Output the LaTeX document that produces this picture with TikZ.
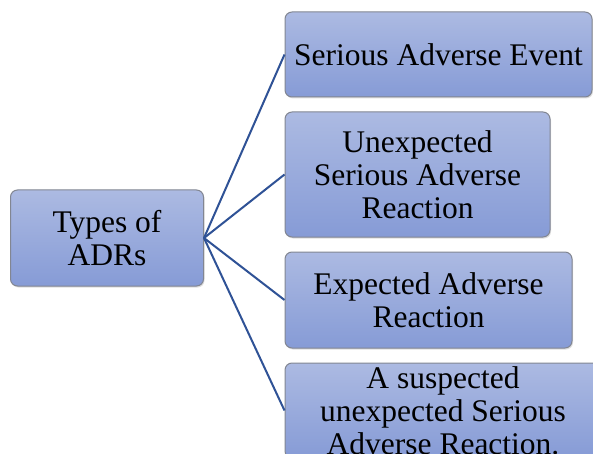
\documentclass[tikz,border=0pt]{standalone}
\usepackage{fontspec}
\setmainfont{Liberation Serif}
\usepackage{xcolor}
\usetikzlibrary{shadows,calc}
\definecolor{boxtop}{RGB}{172,186,226}
\definecolor{boxbot}{RGB}{134,155,214}
\definecolor{boxedge}{RGB}{130,134,146}
\definecolor{linkblue}{RGB}{47,82,150}
\tikzstyle{adrbox}=[rectangle, rounded corners=7pt, draw=boxedge, line width=1pt,
  top color=boxtop, bottom color=boxbot, align=center, inner sep=0pt,
  drop shadow={shadow xshift=1pt, shadow yshift=-1.5pt, opacity=0.25},
  font=\fontsize{31.5}{33}\selectfont]
\tikzstyle{link}=[draw=linkblue, line width=2pt]

\begin{document}
\begin{tikzpicture}[x=1pt, y=-1pt]
  \clip (0,0) rectangle (593,454);
  \fill[white] (0,0) rectangle (593,454);
  \node[adrbox, minimum width=193pt, minimum height=96pt]
    (types) at (107,238) {Types of\\ADRs};
  \node[adrbox, minimum width=307pt, minimum height=85pt]
    (sae) at (438.5,54.5) {Serious Adverse Event};
  \node[adrbox, minimum width=265pt, minimum height=125pt]
    (usar) at (417.5,174.5) {Unexpected\\Serious Adverse\\Reaction};
  \node[adrbox, minimum width=287pt, minimum height=96pt]
    (ear) at (428.5,300) {Expected Adverse\\Reaction};
  \node[adrbox, minimum width=316pt, minimum height=95pt]
    (susar) at (443,410.5) {A suspected\\unexpected Serious\\Adverse Reaction.};
  \foreach \b in {sae,usar,ear,susar}
    \draw[link] (types.east) -- (\b.west);
\end{tikzpicture}
\end{document}
